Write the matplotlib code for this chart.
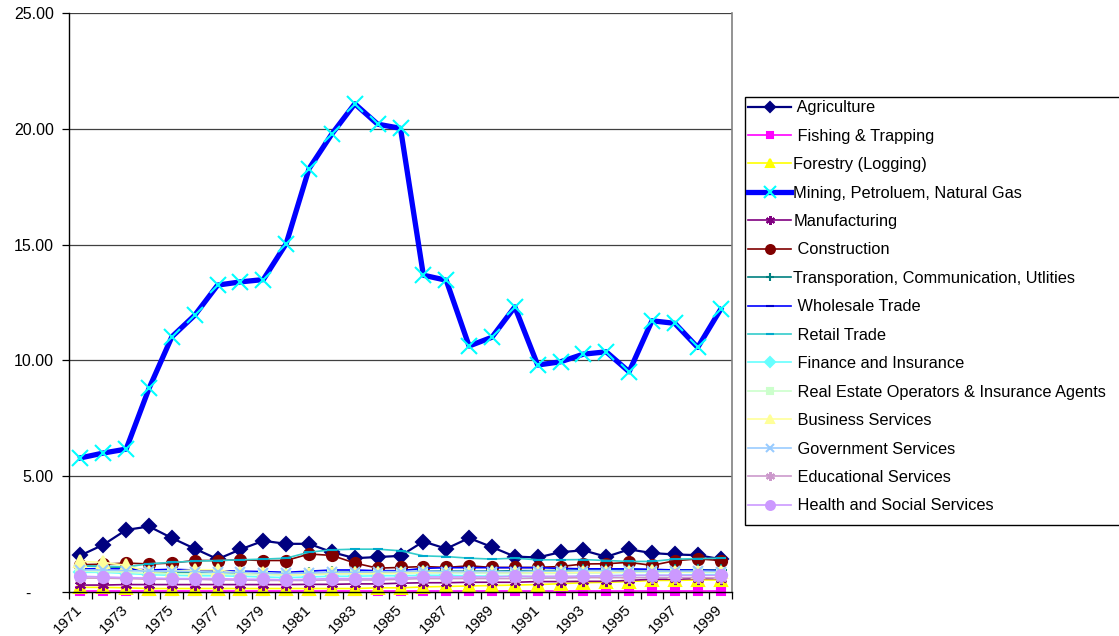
import matplotlib
matplotlib.use("Agg")
import matplotlib.pyplot as plt
from matplotlib.ticker import FixedLocator, FuncFormatter
from matplotlib.transforms import ScaledTranslation
from matplotlib.patches import Rectangle

plt.rcParams['font.family'] = ['Liberation Sans', 'DejaVu Sans']

years = list(range(1971, 2000))

agriculture = [1.58, 2.04, 2.68, 2.83, 2.33, 1.87, 1.42, 1.84, 2.21, 2.08, 2.08, 1.72, 1.46, 1.51, 1.56,
               2.18, 1.87, 2.33, 1.94, 1.53, 1.49, 1.72, 1.80, 1.52, 1.84, 1.68, 1.62, 1.59, 1.42]
fishing = [0.03] * 29
forestry = [0.20, 0.20, 0.18, 0.15, 0.15, 0.15, 0.15, 0.15, 0.15, 0.15, 0.15, 0.15, 0.15, 0.18, 0.18,
            0.22, 0.24, 0.26, 0.28, 0.30, 0.32, 0.36, 0.40, 0.42, 0.45, 0.50, 0.50, 0.52, 0.52]
mining = [5.79, 6.00, 6.17, 8.79, 11.02, 11.95, 13.25, 13.39, 13.49, 15.04, 18.28, 19.78, 21.08, 20.20, 20.02,
          13.68, 13.46, 10.62, 11.00, 12.31, 9.80, 9.94, 10.27, 10.37, 9.51, 11.71, 11.60, 10.56, 12.20]
manufacturing = [0.30, 0.30, 0.32, 0.32, 0.32, 0.32, 0.32, 0.32, 0.32, 0.32, 0.33, 0.33, 0.35, 0.35, 0.38,
                 0.40, 0.40, 0.42, 0.42, 0.42, 0.45, 0.45, 0.46, 0.46, 0.50, 0.55, 0.55, 0.58, 0.58]
construction = [1.18, 1.20, 1.25, 1.21, 1.25, 1.36, 1.36, 1.39, 1.36, 1.36, 1.64, 1.58, 1.25, 1.03, 1.06,
                1.10, 1.06, 1.13, 1.06, 1.06, 1.06, 1.10, 1.21, 1.22, 1.28, 1.15, 1.35, 1.43, 1.36]
transportation = [1.12, 1.10, 1.05, 0.88, 0.85, 0.85, 0.85, 0.82, 0.80, 0.78, 0.80, 0.85, 0.85, 0.85, 0.85,
                  0.90, 0.90, 0.90, 0.90, 0.92, 0.92, 0.93, 0.95, 0.95, 0.95, 0.95, 0.95, 0.95, 0.95]
wholesale = [1.00, 1.00, 1.00, 0.95, 0.98, 0.95, 0.92, 0.90, 0.88, 0.85, 0.90, 0.95, 0.95, 0.92, 0.92,
             1.02, 1.05, 1.05, 1.05, 1.05, 1.05, 1.02, 1.00, 1.00, 1.00, 0.98, 0.95, 0.95, 0.92]
retail = [1.12, 1.12, 1.08, 1.22, 1.28, 1.33, 1.36, 1.39, 1.42, 1.46, 1.72, 1.82, 1.85, 1.85, 1.78,
          1.56, 1.53, 1.46, 1.42, 1.46, 1.39, 1.39, 1.40, 1.36, 1.32, 1.32, 1.42, 1.44, 1.46]
finance = [0.85, 0.85, 0.80, 0.75, 0.72, 0.70, 0.70, 0.68, 0.65, 0.62, 0.65, 0.68, 0.68, 0.70, 0.70,
           0.72, 0.72, 0.70, 0.68, 0.68, 0.65, 0.65, 0.68, 0.70, 0.72, 0.72, 0.72, 0.75, 0.75]
real_estate = [0.90, 0.88, 0.85, 0.80, 0.80, 0.78, 0.78, 0.75, 0.75, 0.72, 0.75, 0.78, 0.78, 0.78, 0.80,
               0.82, 0.82, 0.82, 0.80, 0.80, 0.80, 0.80, 0.82, 0.82, 0.85, 0.85, 0.85, 0.85, 0.85]
business = [1.32, 1.28, 1.15, 0.86, 0.89, 0.96, 0.96, 0.80, 0.83, 0.75, 0.78, 0.80, 0.80, 0.82, 0.82,
            0.85, 0.85, 0.88, 0.85, 0.85, 0.85, 0.85, 0.85, 0.85, 0.88, 0.90, 0.88, 0.88, 0.88]
government = [0.95, 0.95, 0.92, 0.90, 0.90, 0.88, 0.85, 0.85, 0.82, 0.80, 0.82, 0.85, 0.85, 0.88, 0.88,
              0.90, 0.88, 0.88, 0.88, 0.88, 0.90, 0.90, 0.92, 0.92, 0.90, 0.90, 0.90, 0.90, 0.88]
educational = [0.60, 0.60, 0.58, 0.55, 0.55, 0.55, 0.52, 0.52, 0.50, 0.50, 0.50, 0.52, 0.52, 0.52, 0.55,
               0.58, 0.58, 0.58, 0.58, 0.58, 0.60, 0.60, 0.62, 0.62, 0.62, 0.62, 0.62, 0.62, 0.60]
health = [0.68, 0.65, 0.62, 0.60, 0.58, 0.58, 0.58, 0.55, 0.55, 0.52, 0.55, 0.58, 0.58, 0.58, 0.60,
          0.65, 0.65, 0.65, 0.65, 0.68, 0.68, 0.68, 0.68, 0.70, 0.72, 0.72, 0.72, 0.72, 0.72]

asterisk = (6, 2, 0)

# (label, values, line colour, marker, marker face, marker edge, line width, marker size)
series = [
    (" Agriculture", agriculture, "#000080", "D", "#000080", "#000080", 1.6, 7),
    (" Fishing & Trapping", fishing, "#FF00FF", "s", "#FF00FF", "#FF00FF", 1.2, 6),
    ("Forestry (Logging)", forestry, "#FFFF00", "^", "#FFFF00", "#FFFF00", 1.2, 8),
    ("Mining, Petroluem, Natural Gas", mining, "#0000FF", "x", "#00FFFF", "#00FFFF", 3.8, 11),
    ("Manufacturing", manufacturing, "#800080", asterisk, "#800080", "#800080", 1.2, 8),
    (" Construction", construction, "#800000", "o", "#800000", "#800000", 1.2, 8),
    ("Transporation, Communication, Utlities", transportation, "#008080", "+", "#008080", "#008080", 1.2, 8),
    (" Wholesale Trade", wholesale, "#0000FF", "_", "#0000CC", "#0000CC", 1.2, 7),
    (" Retail Trade", retail, "#33CCCC", "_", "#00AACC", "#00AACC", 1.2, 7),
    (" Finance and Insurance", finance, "#66FFFF", "D", "#66FFFF", "#66FFFF", 1.2, 6),
    (" Real Estate Operators & Insurance Agents", real_estate, "#CCFFCC", "s", "#CCFFCC", "#CCFFCC", 1.2, 6),
    (" Business Services", business, "#FFFF99", "^", "#FFFF99", "#FFFF99", 1.2, 8),
    (" Government Services", government, "#99CCFF", "x", "#99CCFF", "#99CCFF", 1.2, 7),
    (" Educational Services", educational, "#CC99CC", asterisk, "#CC99CC", "#CC99CC", 1.2, 8),
    (" Health and Social Services", health, "#CC99FF", "o", "#CC99FF", "#CC99FF", 1.2, 8),
]

W, H = 1119, 636
fig = plt.figure(figsize=(W / 100, H / 100), dpi=100)
ax = fig.add_axes([69 / W, 1 - 592 / H, (732 - 69) / W, (592 - 13) / H])

x = list(range(len(years)))
handles = []
for label, vals, lc, mk, mfc, mec, lw, ms in series:
    h, = ax.plot(x, vals, color=lc, lw=lw, marker=mk, markerfacecolor=mfc,
                 markeredgecolor=mec, markersize=ms, markeredgewidth=1.5,
                 label=label, clip_on=False)
    handles.append(h)

ax.set_xlim(-0.5, len(years) - 0.5)
ax.set_ylim(0, 25)

# horizontal gridlines at every 5 units
for yv in [5, 10, 15, 20, 25]:
    ax.axhline(yv, color="#404040", lw=0.9, zorder=0)

ax.yaxis.set_major_locator(FixedLocator([0, 5, 10, 15, 20, 25]))
ax.yaxis.set_major_formatter(FuncFormatter(lambda v, p: "-     " if v == 0 else f"{v:.2f}"))
ax.tick_params(axis="y", direction="out", length=5, width=0.9, labelsize=11.5, pad=6)

ax.set_xticks(x[::2])
ax.set_xticklabels([str(y) for y in years[::2]], rotation=45, ha="right", va="center",
                   rotation_mode="anchor", fontsize=11)
shift = ScaledTranslation(-13 / 72, 0, fig.dpi_scale_trans)
for t in ax.get_xticklabels():
    t.set_transform(t.get_transform() + shift)
ax.set_xticks([i - 0.5 for i in range(len(years) + 1)], minor=True)
ax.tick_params(axis="x", which="major", length=0, pad=11)
ax.tick_params(axis="x", which="minor", direction="out", length=5, width=0.9)

ax.spines["top"].set_visible(False)
ax.spines["right"].set_color("#808080")
ax.spines["right"].set_linewidth(1.2)
ax.spines["left"].set_linewidth(1.0)
ax.spines["bottom"].set_linewidth(1.0)

# legend box drawn as its own rectangle so its padding can be set freely
fig.patches.append(Rectangle((745 / W, 1 - 525 / H), (W + 10 - 745) / W, (525 - 97) / H,
                             transform=fig.transFigure, facecolor="white",
                             edgecolor="black", lw=1.0, zorder=1))
leg = fig.legend(handles=handles, loc="upper left",
                 bbox_to_anchor=(745 / W, 1 - 97 / H), borderaxespad=0,
                 fontsize=11.8, frameon=False,
                 handlelength=2.6, handletextpad=0.15, labelspacing=0.82,
                 borderpad=0.2, markerscale=0.8)
leg.set_zorder(2)
for lh in leg.legend_handles:
    if lh.get_linewidth() > 3:
        lh.set_linewidth(3.8)

fig.savefig("out.png", dpi=100)
